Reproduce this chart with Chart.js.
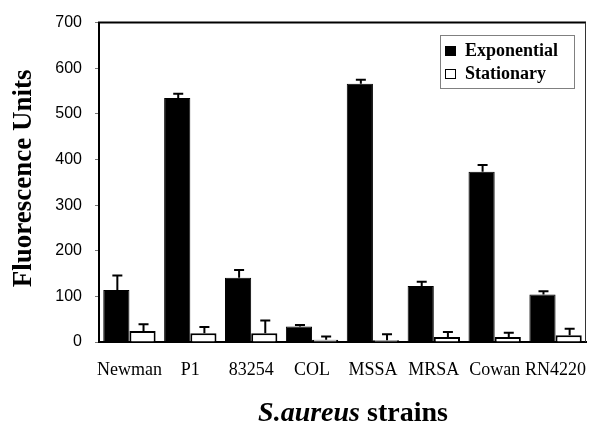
<!DOCTYPE html>
<html>
<head>
<meta charset="utf-8">
<script src="https://cdn.jsdelivr.net/npm/chart.js@4"></script>
<style>
  html, body { margin: 0; padding: 0; background: #fff; }
</style>
</head>
<body>
<canvas id="chart" width="599" height="424"></canvas>
<script>
const strains = ['Newman', 'P1', '83254', 'COL', 'MSSA', 'MRSA', 'Cowan', 'RN4220'];
const exponential = [114, 535, 141, 34, 566, 123, 373, 104];
const exponentialErr = [32, 9, 17, 3, 9, 9, 15, 7];
const stationary = [24, 19, 19, 5, 4, 11, 11, 15];
const stationaryErr = [15, 14, 28, 7, 13, 11, 9, 14];
const yTicks = [0, 100, 200, 300, 400, 500, 600, 700];

const errors = [exponentialErr, stationaryErr];

const errorBars = {
    id: 'errorBars',
    afterDatasetsDraw(chart) {
        const ctx = chart.ctx;
        const y = chart.scales.y;
        ctx.save();
        ctx.strokeStyle = '#000';
        ctx.lineWidth = 2;
        chart.data.datasets.forEach((ds, i) => {
            chart.getDatasetMeta(i).data.forEach((bar, j) => {
                const top = y.getPixelForValue(ds.data[j] + errors[i][j]);
                ctx.beginPath();
                ctx.moveTo(bar.x + 1, bar.y);
                ctx.lineTo(bar.x + 1, top);
                ctx.moveTo(bar.x - 4, top);
                ctx.lineTo(bar.x + 6, top);
                ctx.stroke();
            });
        });
        ctx.restore();
    }
};

const decorations = {
    id: 'decorations',
    afterDraw(chart) {
        const ctx = chart.ctx;
        const a = chart.chartArea;
        ctx.save();
        // box around plot
        ctx.strokeStyle = '#000';
        ctx.lineWidth = 2;
        ctx.beginPath();
        ctx.moveTo(a.left - 1, a.top);
        ctx.lineTo(a.right, a.top);
        ctx.stroke();
        ctx.lineWidth = 1;
        ctx.strokeStyle = '#333';
        ctx.beginPath();
        ctx.moveTo(a.right - 0.5, a.top);
        ctx.lineTo(a.right - 0.5, a.bottom);
        ctx.stroke();

        // legend
        const lx = 440, ly = 35, lw = 134, lh = 53;
        ctx.fillStyle = '#fff';
        ctx.fillRect(lx, ly, lw, lh);
        ctx.strokeStyle = '#000';
        ctx.lineWidth = 1;
        ctx.setLineDash([1, 1]);
        ctx.strokeRect(lx + 0.5, ly + 0.5, lw, lh);
        ctx.setLineDash([]);
        const items = chart.data.datasets;
        ctx.font = 'bold 18px "Liberation Serif"';
        ctx.textBaseline = 'middle';
        ctx.textAlign = 'left';
        items.forEach((ds, i) => {
            const cy = ly + 16 + i * 23;
            ctx.fillStyle = ds.backgroundColor;
            ctx.fillRect(lx + 5, cy - 5, 10, 9);
            ctx.strokeStyle = '#000';
            ctx.lineWidth = 1;
            ctx.strokeRect(lx + 5.5, cy - 4.5, 10, 9);
            ctx.fillStyle = '#000';
            ctx.fillText(ds.label, lx + 25, cy);
        });

        // y axis title
        ctx.save();
        ctx.translate(24, (a.top + a.bottom) / 2 - 4);
        ctx.rotate(-Math.PI / 2);
        ctx.font = 'bold 27px "Liberation Serif"';
        ctx.textAlign = 'center';
        ctx.textBaseline = 'middle';
        ctx.fillStyle = '#000';
        ctx.fillText('Fluorescence Units', 0, 0);
        ctx.restore();

        // x axis title, mixed styles
        const part1 = 'S.aureus';
        const part2 = ' strains';
        const f1 = 'italic bold 28px "Liberation Serif"';
        const f2 = 'bold 28px "Liberation Serif"';
        ctx.font = f1;
        const w1 = ctx.measureText(part1).width;
        ctx.font = f2;
        const w2 = ctx.measureText(part2).width;
        const cx = 353;
        let x0 = cx - (w1 + w2) / 2;
        ctx.textAlign = 'left';
        ctx.textBaseline = 'alphabetic';
        ctx.fillStyle = '#000';
        ctx.font = f1;
        ctx.fillText(part1, x0, 421);
        ctx.font = f2;
        ctx.fillText(part2, x0 + w1, 421);
        ctx.restore();
    }
};

new Chart(document.getElementById('chart'), {
    type: 'bar',
    data: {
        labels: strains,
        datasets: [{
            label: 'Exponential',
            data: exponential,
            backgroundColor: '#000',
            borderColor: '#000',
            borderWidth: 1
        }, {
            label: 'Stationary',
            data: stationary,
            backgroundColor: '#fff',
            borderColor: '#000',
            borderWidth: 2
        }]
    },
    options: {
        responsive: false,
        animation: false,
        events: [],
        datasets: {
            bar: { categoryPercentage: 0.86, barPercentage: 1.0 }
        },
        layout: { padding: { top: 17, right: 13, left: 0, bottom: 0 } },
        plugins: {
            legend: { display: false },
            tooltip: { enabled: false }
        },
        scales: {
            x: {
                grid: { display: false },
                border: { display: true, color: '#000', width: 2 },
                ticks: {
                    color: '#000',
                    font: { family: 'Liberation Serif', size: 18 },
                    padding: 9,
                    maxRotation: 0,
                    autoSkip: false
                },
                afterFit(scale) { scale.height = 82; }
            },
            y: {
                min: 0,
                max: 700,
                afterBuildTicks(scale) { scale.ticks = yTicks.map(v => ({ value: v })); },
                grid: { drawOnChartArea: false, drawTicks: true, tickLength: 4, color: '#777' },
                border: { display: true, color: '#000', width: 2 },
                ticks: {
                    color: '#000',
                    font: { family: 'Liberation Sans', size: 16 },
                    padding: 13
                },
                afterFit(scale) { scale.width = 99; }
            }
        }
    },
    plugins: [errorBars, decorations]
});
</script>
</body>
</html>
